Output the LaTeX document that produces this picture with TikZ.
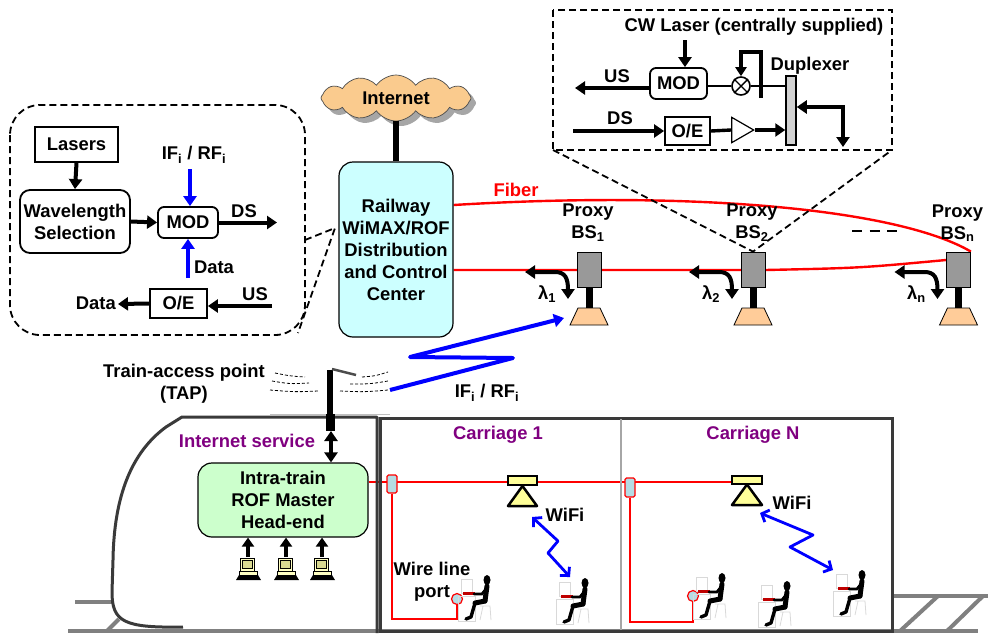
\documentclass[tikz,border=0pt]{standalone}
\usepackage{fontspec}
\setmainfont{Liberation Sans}
\usetikzlibrary{arrows.meta,shapes.symbols,shapes.geometric,shadows,backgrounds,calc}
\definecolor{ctrlfill}{HTML}{CCFFFF}
\definecolor{hefill}{HTML}{CCFFCC}
\definecolor{cloudfill}{HTML}{FACB8E}
\definecolor{basefill}{HTML}{FFCC99}
\definecolor{apfill}{HTML}{FFFF99}
\definecolor{portfill}{HTML}{B4DCE4}
\definecolor{bsgray}{HTML}{999999}
\definecolor{railgray}{HTML}{808080}
\definecolor{trainline}{HTML}{3A3A3A}
\definecolor{labelpurple}{HTML}{800080}
\definecolor{fiberred}{HTML}{FF0000}
\definecolor{wireblue}{HTML}{0000FF}
\tikzset{
  txt/.style={font=\fontsize{18.4}{22}\selectfont\bfseries, align=center, inner sep=0pt},
  blk/.style={draw, line width=1.8pt, inner sep=0pt, align=center},
  rblk/.style={blk, rounded corners=6pt},
  tip/.tip={Triangle[length=10pt,width=13pt]},
  arr/.style={line width=4pt, -tip},
  darr/.style={line width=4pt, tip-tip},
  barr/.style={wireblue, line width=4pt, -tip},
  wifiarr/.style={wireblue, line width=2.8pt, line join=round,
    {Straight Barb[length=6pt,width=13pt]}-{Straight Barb[length=6pt,width=13pt]}},
  fiber/.style={fiberred, line width=2.4pt},
  callout/.style={line width=1.8pt, dash pattern=on 7pt off 4pt},
  bsbox/.style={draw, line width=0.8pt, fill=bsgray, minimum width=24pt, minimum height=35pt, inner sep=0pt},
  connbox/.style={draw=fiberred, line width=1.2pt, fill=portfill, rounded corners=1.5pt,
    minimum width=10pt, minimum height=18pt, inner sep=0pt},
  passenger/.pic={
    \draw[gray!30, line width=0.8pt] (1,21) rectangle (18,46);
    \draw[gray!30, line width=0.8pt] (4,4) rectangle (15,18);
    \fill[red!75!black] (6,17) rectangle (18,20);
    \fill (30,5) ellipse [x radius=3.5, y radius=5];
    \draw[line width=5pt, line cap=round] (30,11) -- (28,26);
    \draw[line width=2.8pt, line cap=round, line join=round] (29,14) -- (25,19) -- (17,19);
    \draw[line width=5pt, line cap=round, line join=round] (28,26) -- (18,28);
    \draw[line width=3.4pt, line cap=round, line join=round] (18,28) -- (14,42) -- (9,44);
    \draw[gray!30, line width=0.8pt] (23,31) -- (33,31) -- (34,45) (26,31) -- (23,45);
  },
  desktop/.pic={
    \draw[line width=0.9pt, fill=apfill!60] (-8,0) rectangle (6,13);
    \draw[line width=0.6pt, fill=apfill!70!gray] (-6,2) rectangle (4,10);
    \draw[line width=0.9pt, fill=apfill!60] (-9,13) rectangle (9,17);
    \fill (-12,22) -- (-9,17) -- (10,17) -- (13,22) -- cycle;
  }
}
\begin{document}
\begin{tikzpicture}[x=1pt, y=-1pt, every node/.style={txt}]
\useasboundingbox (0,0) rectangle (989,633);

% ---------------- rails
\begin{scope}[railgray, line width=4pt]
  \draw (75,602) -- (113,602);
  \draw (68,631) -- (978,631);
  \draw (107,631) -- (119,619);
  \draw (892,596) -- (988,596);
  \draw (900,631) -- (938,596);
  \draw (947,631) -- (983,596);
\end{scope}

% ---------------- train body
\draw[trainline, line width=3pt, line join=round]
  (377,633) -- (377,417) -- (182,417) -- (166,427)
  .. controls (132,452) and (114,495) .. (113,560) -- (112,592)
  .. controls (112,622) and (124,628) .. (183,627);
\draw[trainline, line width=3pt] (380,418) rectangle (892,631);
\draw[gray!70, line width=1.8pt] (621,419) -- (621,630);
\draw[gray!50, line width=1pt] (270,414) -- (390,414);

% ---------------- central office
\node[cloud, cloud puffs=12, cloud puff arc=110, aspect=3.2, draw=black!70, line width=0.7pt,
      fill=cloudfill, minimum width=150pt, minimum height=46pt,
      drop shadow={shadow xshift=5pt, shadow yshift=-5pt, fill=gray!70, opacity=1}]
  (inet) at (396,98) {Internet};
\node[draw, line width=1.2pt, fill=ctrlfill, rounded corners=14pt, minimum width=114pt,
      minimum height=175pt] (ctrl) at (396,249.5)
  {Railway\\WiMAX/ROF\\Distribution\\and Control\\Center};
\draw[line width=5.5pt] (inet.south) -- (ctrl.north);

% ---------------- head-end transmitter detail
\draw[callout, rounded corners=30pt] (10,105) rectangle (305,335);
\coordinate (ctrlpin) at (335,228);
\draw[callout] (305,240) -- (ctrlpin) -- (298,333);
\node[blk, minimum width=83pt, minimum height=35pt] (lasers) at (76.5,144.5) {Lasers};
\node[blk, rounded corners=10pt, minimum width=110pt, minimum height=63pt] (wls) at (75,221.5)
  {Wavelength\\Selection};
\node[rblk, minimum width=60pt, minimum height=31pt] (mod1) at (188,222.5) {MOD};
\node[blk, minimum width=57pt, minimum height=29pt] (oe1) at (178.5,303.5) {O/E};
\draw[arr] (lasers.south) -- (wls.north);
\draw[arr] (wls.east) -- (mod1.west);
\coordinate (ds1) at (277,222.5);
\draw[arr] (mod1.east) -- (ds1);
\node (ds1lbl) at (244,211) {DS};
\node (iflbl) at (194,155) {IF\textsubscript{i} / RF\textsubscript{i}};
\coordinate (iftop) at (190,169);
\draw[barr] (iftop) -- (iftop |- mod1.north);
\coordinate (databot) at (188,278);
\draw[barr] (databot) -- (mod1.south);
\node (datalbl) at (214,267) {Data};
\coordinate (us1) at (272,306);
\draw[arr] (us1) -- (oe1.east |- us1);
\node (us1lbl) at (255,294) {US};
\coordinate (dataout) at (118,304);
\draw[arr] (oe1.west) -- (dataout);
\node[anchor=east] (dataoutlbl) at (116,303) {Data};

% ---------------- proxy base station detail
\draw[callout] (553,10) rectangle (892,150);
\node (cwlbl) at (754,27) {CW Laser (centrally supplied)};
\node[rblk, minimum width=57pt, minimum height=31pt] (mod2) at (678.5,83.5) {MOD};
\coordinate (cwtop) at (685,40);
\draw[arr] (cwtop) -- (cwtop |- mod2.north);
\coordinate (us2) at (575,88);
\draw[arr] (mod2.west |- us2) -- (us2);
\node (us2lbl) at (617,76) {US};
\node[draw, circle, line width=1.6pt, minimum size=18pt, inner sep=0pt] (mix) at (741,86) {};
\draw[line width=1.4pt] (mix.north east) -- (mix.south west) (mix.north west) -- (mix.south east);
\node[draw, line width=1.5pt, fill=gray!35, minimum width=10pt, minimum height=69pt, inner sep=0pt]
  (dup) at (791,110.5) {};
\node (duplbl) at (810,66) {Duplexer};
\draw[line width=2pt] (mod2.east |- mix) -- (mix.west);
\draw[line width=2pt] (mix.east) -- (dup.west |- mix);
\draw[line width=3.6pt, -{Triangle[length=9pt,width=11pt]}] (761,98) -- (761,52) -- (741,52) -- (mix.north);
\coordinate (dupknee) at (843,107);
\coordinate (dupout) at (843,147);
\draw[darr] (dup.east |- dupknee) -- (dupknee) -- (dupout);
\node[blk, minimum width=45pt, minimum height=28pt] (oe2) at (687.5,131) {O/E};
\node (ds2lbl) at (620,118) {DS};
\coordinate (ds2) at (573,131);
\draw[arr] (ds2) -- (oe2.west);
\node[draw, isosceles triangle, isosceles triangle apex angle=60, line width=1.2pt, fill=white,
      minimum height=22pt, minimum width=24pt, inner sep=0pt] (amp) at (739,130) {};
\draw[line width=3.4pt] (oe2.east) -- (amp.west);
\draw[arr] (amp.apex) -- (dup.west |- amp.apex);

% ---------------- proxy base stations and fiber
\foreach \n/\x in {1/589, 2/753, n/958.5} {
  \node[bsbox] (bs\n) at (\x,269.5) {};
  \draw[line width=0.8pt, fill=basefill] (\x-11,308) -- (\x+11,308) -- (\x+19,325) -- (\x-19,325) -- cycle;
  \node (bslbl\n) at (\x-1,223) {Proxy\\BS\textsubscript{\n}};
  \draw[line width=4pt, tip-tip]
    (\x-64,272) -- (\x-34,272) .. controls (\x-24,272) and (\x-21,278) .. (\x-21,299);
  \node (lam\n) at (\x-42,294) {λ\textsubscript{\n}};
}
\foreach \n in {1,2,n} { \draw[line width=7pt] (bs\n.south) -- ++(0,21); }
\begin{scope}[on background layer]
  \draw[fiber] (ctrl.east |- 0,205) .. controls (700,190) and (900,210) .. (bsn.north east);
  \draw[fiber] (ctrl.east |- 0,270) -- (bs2.east |- 0,270) .. controls (860,268) .. (bsn.west |- 0,260);
\end{scope}
\node[text=fiberred] (fiberlbl) at (516,190) {Fiber};
\draw[line width=2.8pt, dash pattern=on 10pt off 7.5pt] (852,231) -- (897,231);
\draw[callout] (553,150) -- (bs2.north) -- (892,150);

% ---------------- train access point
\node (taplbl) at (184,384) {Train-access point\\(TAP)};
\draw[line width=5.5pt] (330,370) -- (330,416);
\fill (325.5,414) rectangle (334.5,431);
\draw[black!70, line width=2.5pt] (332,369) -- (356,375);
\begin{scope}[line width=0.8pt, dash pattern=on 3pt off 2pt]
  \draw (275,373) .. controls (290,376) .. (305,377);
  \draw (272,381) .. controls (290,384) .. (309,383);
  \draw (270,390) .. controls (295,392) .. (318,391);
  \draw (362,377) .. controls (375,376) .. (388,372);
  \draw (350,384) .. controls (370,384) .. (388,381);
  \draw (340,391) .. controls (365,392) .. (388,390);
\end{scope}
\coordinate (tapout) at (390,390);
\draw[barr, line join=round] (tapout) -- (513,358) -- (410,357) -- (564,318);
\node (ifrflbl) at (487,393) {IF\textsubscript{i} / RF\textsubscript{i}};

% ---------------- intra-train head-end
\node[text=labelpurple] (servlbl) at (247,441) {Internet service};
\node[draw, line width=1.2pt, fill=hefill, rounded corners=14pt, minimum width=170pt,
      minimum height=74pt] (he) at (283,500) {Intra-train\\ROF Master\\Head-end};
\coordinate (tapbot) at (331,431);
\draw[darr] (tapbot) -- (tapbot |- he.north);
\foreach \cx in {248,286,322} {
  \pic at (\cx,558) {desktop};
  \draw[line width=3.6pt, -{Triangle[length=9pt,width=12pt]}] (\cx,557) -- (\cx,557 |- he.south);
}

% ---------------- carriages
\node[text=labelpurple] (car1lbl) at (498,435) {Carriage 1};
\node[text=labelpurple] (carNlbl) at (753,435) {Carriage N};
\node[connbox] (c1) at (392,484) {};
\node[connbox, minimum height=19pt] (cN) at (630,487.5) {};
\node[draw, line width=2pt, fill=apfill, minimum width=29pt, minimum height=9pt, inner sep=0pt]
  (ap1) at (522.5,480.5) {};
\node[draw, line width=2pt, fill=apfill, minimum width=30pt, minimum height=8pt, inner sep=0pt]
  (apN) at (747,479.5) {};
\draw[line width=2.5pt, fill=apfill, line join=round] (ap1.south) -- (537,506) -- (508,506) -- cycle;
\draw[line width=2.5pt, fill=apfill, line join=round] (apN.south) -- (762,505) -- (732,505) -- cycle;
\node[draw=fiberred, circle, line width=1.2pt, fill=portfill, minimum size=11pt, inner sep=0pt]
  (port1) at (457,599) {};
\node[draw=fiberred, circle, line width=1.2pt, fill=portfill, minimum size=11pt, inner sep=0pt]
  (portN) at (693,596) {};
\begin{scope}[on background layer]
  \draw[fiber] (he.east |- 0,482) -- (apN.west |- 0,482);
  \draw[fiberred, line width=2pt] (c1.south) -- ++(0,125) -| (port1.south);
  \draw[fiberred, line width=2pt] (cN.south) -- ++(0,124) -| (portN.south);
\end{scope}
\node (wirelbl) at (432,582) {Wire line\\port};
\node (wifi1) at (565,515) {WiFi};
\node (wifiN) at (792,503) {WiFi};
\draw[wifiarr] (532,517) -- (558,541) -- (548,553) -- (570,577);
\draw[wifiarr] (760,513) -- (813,535) -- (790,547) -- (833,570);

\pic at (457,575) {passenger};
\pic at (555,578) {passenger};
\pic at (692,573) {passenger};
\pic at (757,581) {passenger};
\pic at (832,570) {passenger};
\end{tikzpicture}
\end{document}
